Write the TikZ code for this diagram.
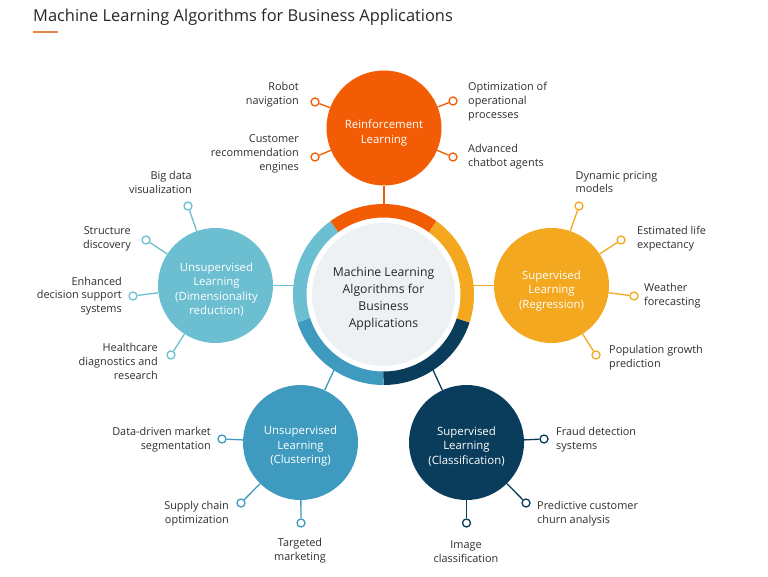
\documentclass[tikz,border=0pt]{standalone}
\usepackage{fontspec}
\setmainfont{Open Sans}
\usetikzlibrary{calc}
\definecolor{cOr}{HTML}{F25C05}
\definecolor{cYe}{HTML}{F3A81F}
\definecolor{cNv}{HTML}{0A3D5C}
\definecolor{cMb}{HTML}{3E9BBF}
\definecolor{cLb}{HTML}{6BBFD0}
\definecolor{cGray}{HTML}{EDF1F4}
\definecolor{txt}{HTML}{2E2E2E}
\definecolor{cLine}{HTML}{E8844A}
\begin{document}
\begin{tikzpicture}[x=1pt,y=-1pt,
  sat/.style={circle, minimum size=115pt, inner sep=0pt},
  sattxt/.style={inner sep=0pt, text=white, align=center, font=\fontsize{11.4}{14.5}\selectfont},
  leaf/.style={circle, draw=#1, fill=white, line width=1.3pt, minimum size=8pt, inner sep=0pt},
  lt/.style={inner sep=0pt, text=txt, font=\fontsize{10.9}{13.8}\selectfont},
  ltr/.style={lt, anchor=east, align=right},
  ltl/.style={lt, anchor=west, align=left},
  ltc/.style={lt, anchor=center, align=center},
  conn/.style={line width=1.3pt},
  ringseg/.style={line width=13.5pt}
]
\useasboundingbox (0,0) rectangle (768,577);

% title
\node[anchor=base west, inner sep=0pt, text=black!85, font=\fontsize{16.4}{19}\selectfont] (title) at (33,22) {Machine Learning Algorithms for Business Applications};
\coordinate (ul1) at (33,32);
\coordinate (ul2) at (58,32);
\draw[cLine, line width=2pt] (ul1) -- (ul2);

% central
\node[circle, minimum size=181pt, inner sep=0pt] (main) at (383.5,294.5) {};
\draw[ringseg, cOr] (main.center) ++(-54:83.75) arc[start angle=-54, end angle=-126, radius=83.75];
\draw[ringseg, cLb] (main.center) ++(-126:83.75) arc[start angle=-126, end angle=-198, radius=83.75];
\draw[ringseg, cMb] (main.center) ++(-198:83.75) arc[start angle=-198, end angle=-270, radius=83.75];
\draw[ringseg, cNv] (main.center) ++(-270:83.75) arc[start angle=-270, end angle=-342, radius=83.75];
\draw[ringseg, cYe] (main.center) ++(-342:83.75) arc[start angle=-342, end angle=-414, radius=83.75];
\node[circle, fill=cGray, minimum size=143pt, inner sep=0pt] (ctr) at (main.center) {};
\node[inner sep=0pt, align=center, text=black!85, font=\fontsize{12.2}{17}\selectfont] (ctrtxt) at (383.5,298.5) {Machine Learning\\Algorithms for\\Business\\Applications};

% satellites
\node[sat, fill=cOr] (rl) at (384,128) {};
\node[sat, fill=cYe] (reg) at (551.5,285.5) {};
\node[sat, fill=cLb] (dim) at (215.5,285.5) {};
\node[sat, fill=cMb] (clu) at (300.5,442.5) {};
\node[sat, fill=cNv] (cla) at (466.5,442.5) {};
\node[sattxt] (rlT) at (384,133) {Reinforcement\\Learning};
\node[sattxt] (regT) at (551.5,291) {Supervised\\Learning\\(Regression)};
\node[sattxt] (dimT) at (216.5,289.5) {Unsupervised\\Learning\\(Dimensionality\\reduction)};
\node[sattxt] (cluT) at (300.5,446.5) {Unsupervised\\Learning\\(Clustering)};
\node[sattxt] (claT) at (466.5,446.5) {Supervised\\Learning\\(Classification)};

% ring attachment points
\coordinate (aRl) at (384,204);
\coordinate (aReg) at (473,285.5);
\coordinate (aDim) at (294,285.5);
\coordinate (aClu) at (334,370);
\coordinate (aCla) at (433,370);
\draw[conn, cOr] (rl) -- (aRl);
\draw[conn, cYe] (reg) -- (aReg);
\draw[conn, cLb] (dim) -- (aDim);
\draw[conn, cMb] (clu) -- (aClu);
\draw[conn, cNv] (cla) -- (aCla);

% reinforcement leaves
\node[leaf=cOr] (o1) at (315,102) {};
\node[leaf=cOr] (o2) at (315,157) {};
\node[leaf=cOr] (o3) at (453,101) {};
\node[leaf=cOr] (o4) at (453,157) {};
\foreach \n in {o1,o2,o3,o4} \draw[conn, cOr] (rl) -- (\n);
\node[ltr] (to1) at (299,94.5) {Robot\\navigation};
\node[ltr] (to2) at (299,154) {Customer\\recommendation\\engines};
\node[ltl] (to3) at (468,101.5) {Optimization of\\operational\\processes};
\node[ltl] (to4) at (468,157) {Advanced\\chatbot agents};

% regression leaves
\node[leaf=cYe] (y1) at (579,206) {};
\node[leaf=cYe] (y2) at (621,240) {};
\node[leaf=cYe] (y3) at (634,296) {};
\node[leaf=cYe] (y4) at (596,355) {};
\foreach \n in {y1,y2,y3,y4} \draw[conn, cYe] (reg) -- (\n);
\node[ltl] (ty1) at (575.5,182) {Dynamic pricing\\models};
\node[ltl] (ty2) at (637,238.5) {Estimated life\\expectancy};
\node[ltl] (ty3) at (644,295.5) {Weather\\forecasting};
\node[ltl] (ty4) at (609,358) {Population growth\\prediction};

% dimensionality leaves
\node[leaf=cLb] (b1) at (188,206) {};
\node[leaf=cLb] (b2) at (146,240) {};
\node[leaf=cLb] (b3) at (133,296) {};
\node[leaf=cLb] (b4) at (171,355) {};
\foreach \n in {b1,b2,b3,b4} \draw[conn, cLb] (dim) -- (\n);
\node[ltr] (tb1) at (192,182.5) {Big data\\visualization};
\node[ltr] (tb2) at (131,238.5) {Structure\\discovery};
\node[ltr] (tb3) at (122,296) {Enhanced\\decision support\\systems};
\node[ltr] (tb4) at (158,361.5) {Healthcare\\diagnostics and\\research};

% clustering leaves
\node[leaf=cMb] (m1) at (222,439) {};
\node[leaf=cMb] (m2) at (241,503) {};
\node[leaf=cMb] (m3) at (301,523) {};
\foreach \n in {m1,m2,m3} \draw[conn, cMb] (clu) -- (\n);
\node[ltr] (tm1) at (211,439.5) {Data-driven market\\segmentation};
\node[ltr] (tm2) at (229,513.5) {Supply chain\\optimization};
\node[ltc] (tm3) at (300,551) {Targeted\\marketing};

% classification leaves
\node[leaf=cNv] (n1) at (544,439) {};
\node[leaf=cNv] (n2) at (526,503) {};
\node[leaf=cNv] (n3) at (466.5,523) {};
\foreach \n in {n1,n2,n3} \draw[conn, cNv] (cla) -- (\n);
\node[ltl] (tn1) at (556,439.5) {Fraud detection\\systems};
\node[ltl] (tn2) at (537,513.5) {Predictive customer\\churn analysis};
\node[ltc] (tn3) at (466,551.5) {Image\\classification};
\end{tikzpicture}
\end{document}
